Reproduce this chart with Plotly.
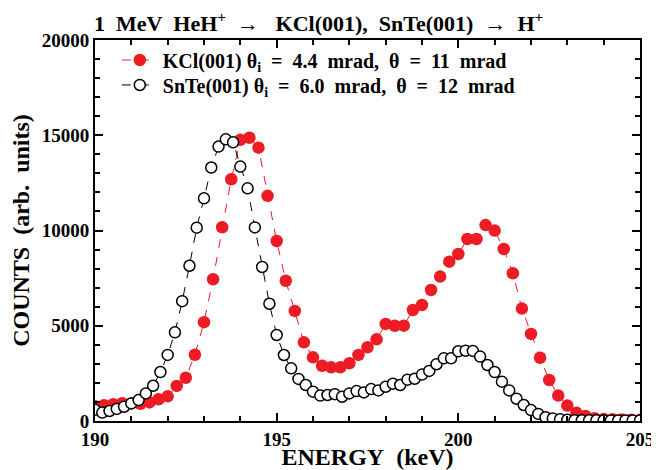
import plotly.graph_objects as go

# KCl(001): energies 190.0 .. 205.0 step 0.25 keV
kcl_energy = [190.0 + 0.25 * k for k in range(61)]
kcl_counts = [780, 830, 880, 935, 925, 905, 975, 1140, 1295, 1840,
              2270, 3480, 5190, 7440, 10170, 12690, 14760, 14870, 14350, 11820,
              9450, 7360, 5780, 4130, 3340, 2900, 2815, 2815, 3030, 3470,
              3870, 4285, 5095, 5000, 5005, 5825, 6090, 6875, 7580, 8365,
              8765, 9555, 9555, 10285, 9995, 9030, 7755, 5900, 4570, 3320,
              2150, 1335, 810, 430, 265, 145, 110, 90, 80, 70, 60]

# SnTe(001): energies 190.0 .. 205.0 step 0.2 keV
snte_energy = [190.0 + 0.2 * j for j in range(76)]
snte_counts = [585, 440, 525, 635, 750, 925, 1100, 1450, 1850, 2570,
               3470, 4655, 6290, 8150, 10150, 11690, 13305, 14405, 14785, 14630,
               13355, 12215, 10160, 8085, 6155, 4515, 3465, 2765, 2210, 1890,
               1540, 1335, 1365, 1410, 1275, 1450, 1570, 1500, 1675, 1605,
               1800, 1960, 1890, 2170, 2220, 2435, 2630, 2980, 3290, 3290,
               3660, 3690, 3680, 3380, 2940, 2570, 2065, 1605, 1170, 840,
               575, 370, 195, 135, 88, 60, 45, 40, 35, 35,
               30, 30, 30, 30, 30, 30]

x_ticks = [190, 195, 200, 205]
x_ticktext = ["190", "195", "200", "205"]
y_ticks = [0, 5000, 10000, 15000, 20000]
y_ticktext = ["0", "5000", "10000", "15000", "20000"]

FONT = "Liberation Serif"
RED = "rgb(237,28,36)"
sp = "\u00a0"

fig = go.Figure()
fig.add_trace(go.Scatter(
    x=kcl_energy, y=kcl_counts, mode="lines+markers", legend="legend",
    name=f"KCl(001){sp}θ<sub>i</sub>{sp} ={sp} 4.4{sp} mrad,{sp} θ{sp} ={sp} 11{sp} mrad",
    line=dict(color=RED, width=1, dash="dash"),
    marker=dict(symbol="circle", size=12.5, color=RED, line=dict(width=0)),
))
fig.add_trace(go.Scatter(
    x=snte_energy, y=snte_counts, mode="lines+markers", legend="legend2",
    name=f"SnTe(001){sp}θ<sub>i</sub>{sp} ={sp} 6.0{sp} mrad,{sp} θ{sp} ={sp} 12{sp} mrad",
    line=dict(color="black", width=1, dash="dash"),
    marker=dict(symbol="circle", size=11, color="white", line=dict(width=1.5, color="black")),
))

axis_common = dict(
    showline=True, linecolor="black", linewidth=2, mirror="ticks",
    ticks="inside", ticklen=8, tickwidth=1.5, tickcolor="black",
    showgrid=False, zeroline=False, automargin=False,
    ticklabeloverflow="allow",
    tickfont=dict(family=FONT, size=19, color="black", weight="bold"),
)

legend_common = dict(
    xanchor="left", yanchor="middle", x=0.040,
    bgcolor="rgba(0,0,0,0)", itemwidth=36,
    font=dict(family=FONT, size=20, color="black", weight="bold"),
)

# page body adds an 8px offset; figure sized so plot area lands where the reference has it
fig.update_layout(
    width=651, height=462,
    margin=dict(l=87, r=19, t=32, b=49),
    paper_bgcolor="white", plot_bgcolor="white",
    font=dict(family=FONT, color="black", weight="bold"),
    title=dict(
        text=f"1{sp} MeV{sp} HeH<sup>+</sup>{sp} →{sp}{sp} KCl(001),{sp} SnTe(001){sp} →{sp} H<sup>+</sup>",
        x=0.132, xanchor="left", xref="container", y=0.966, yanchor="middle",
        font=dict(family=FONT, size=22, color="black", weight="bold"),
    ),
    xaxis=dict(
        range=[190, 205], tickvals=x_ticks, ticktext=x_ticktext,
        minor=dict(dtick=1, ticks="inside", ticklen=5, tickwidth=1.5, tickcolor="black"),
        title=dict(text=f"ENERGY{sp} (keV)", standoff=0,
                   font=dict(family=FONT, size=24, color="black", weight="bold")),
        **axis_common,
    ),
    yaxis=dict(
        range=[0, 20000], tickvals=y_ticks, ticktext=y_ticktext,
        minor=dict(dtick=1000, ticks="inside", ticklen=5, tickwidth=1.5, tickcolor="black"),
        title=dict(text=f"COUNTS{sp} (arb.{sp} units)", standoff=6,
                   font=dict(family=FONT, size=24, color="black", weight="bold")),
        **axis_common,
    ),
    legend=dict(y=0.9475, **legend_common),
    legend2=dict(y=0.882, **legend_common),
    showlegend=True,
)

fig.write_html("out.html")
